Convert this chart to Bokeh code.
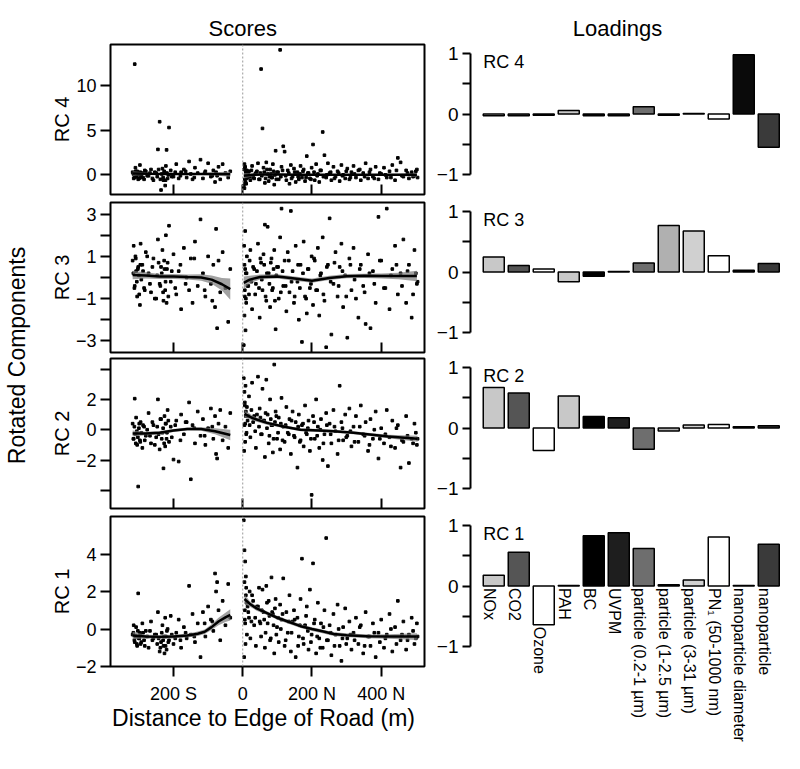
import math
from bokeh.plotting import figure
from bokeh.models import Range1d, FixedTicker, Span, Label
from bokeh.layouts import row, column
from bokeh.embed import file_html
from bokeh.resources import INLINE
from bokeh.core.properties import value

FONT = "Liberation Sans"

# ---------------- data: scores (distance in m; south negative) ----------------
distance = [-318, -315, -312, -310, -308, -305, -302, -300, -297, -295, -290, -285, -280, -272, -265,
            -258, -250, -245, -240, -236, -232, -229, -226, -224, -222, -220, -217, -213, -208, -200,
            -192, -185, -178, -170, -162, -155, -150, -145, -138, -130, -122, -115, -108, -100, -92,
            -85, -80, -77, -74, -70, -65, -58, -50, -42, -36,
            3, 4, 5, 5, 6, 7, 8, 9, 10, 12, 14,
            18, 22, 27, 33, 38, 44, 49, 53, 57, 60, 64, 68, 72, 75, 79, 83, 87, 91, 95, 99,
            104, 108, 112, 117, 121, 126, 130, 135, 139, 144, 148, 153, 158, 162, 167, 171, 176, 180,
            185, 190, 194, 199,
            203, 208, 212, 217, 221, 226, 231, 236, 241, 246, 251, 256, 262, 268, 274, 280, 285, 290, 296,
            302, 308, 314, 320, 327, 334, 341, 348, 355, 362, 369, 376, 384, 392, 400, 408, 416, 424,
            432, 440, 448, 456, 464, 472, 480, 488, 496, 503,
            # second batch of observations (the dense core of each cloud)
            -316, -313, -309, -306, -303, -299, -296, -293, -288, -283, -276, -268, -261, -254, -247,
            -243, -238, -234, -230, -227, -223, -219, -215, -205, -195, -180, -165, -140, -110, -88,
            6, 7, 9, 11, 16, 20, 25, 30, 36, 41, 47, 51, 55, 62, 66, 70, 77, 81, 85, 89,
            93, 97, 102, 110, 115, 124, 133, 141, 150, 160, 165, 174, 183, 188, 197, 206, 215, 224, 233, 243,
            254, 265, 277, 288, 299, 311, 323, 338, 352, 366, 380, 396, 412, 428, 444, 460, 476, 492, 500, 505]

rc4_scores = [0.3, -0.4, 12.4, 0.8, -0.2, 0.4, -0.5, 0.1, 1.1, -0.3, 0.2, -0.5, 0.4, -0.1, 0.6,
              -0.6, 0.2, 2.85, 5.95, -1.7, 0.7, -0.6, 0.3, -1.2, 1.0, 2.8, -0.4, 5.3, 0.5, -0.2,
              1.2, -0.4, 0.3, 0.6, -0.3, 1.5, 0.1, -0.5, 0.8, 0.2, 1.7, -0.4, 0.4, 1.3, -0.2,
              0.5, -0.8, 0.3, -0.1, 0.9, -0.5, 1.2, 0.2, -0.3, 0.4,
              -1.2, 0.6, -1.5, 1.2, -0.5, 0.9, -0.8, 0.3, -1.0, 0.5, -0.3,
              0.4, -0.6, 1.0, -0.4, 0.2, 1.3, -0.5, 11.85, 5.2, 0.8, -0.9, 1.4, 0.1, -0.7, 0.6, -0.3, 1.2, -1.1, 2.7, 0.3,
              -0.5, 14.0, 0.9, 3.2, 2.6, -0.6, 0.5, -1.0, 1.1, -0.2, 0.7, -0.8, 0.3, -0.5, 1.0, -0.3, 0.6, -0.7,
              2.1, 0.2, -0.4, 0.8,
              3.4, -0.6, 1.2, 0.1, -0.8, 0.5, 4.8, 2.2, -0.3, 1.3, 0.2, -0.6, 0.9, -0.2, 0.4, -0.7, 1.1, 0.0, -0.4,
              0.7, -0.5, 0.3, 1.0, -0.3, 0.5, -0.6, 0.2, 1.3, -0.4, 0.6, -0.2, 0.9, -0.5, 0.1, 0.8, -0.3, 0.4,
              1.1, -0.6, 1.9, 1.4, -0.2, 0.5, -0.4, 0.3, -0.1, 0.6,
              0.1, -0.3, 0.4, -0.2, 0.2, -0.4, 0.3, 0.0, -0.3, 0.5, -0.1, 0.2, -0.4, 0.3, -0.2,
              0.6, -0.5, 0.1, -0.3, 0.4, -0.6, 0.2, 0.0, -0.2, 0.3, -0.1, 0.4, -0.3, 0.2, -0.1,
              0.8, -0.9, 0.2, -0.4, 0.3, -0.2, 0.5, -0.3, 0.1, 0.4, -0.5, 0.2, -0.1, 0.3, -0.4, 0.6, -0.2, 0.1, -0.3, 0.4,
              0.0, -0.5, 0.3, -0.2, 0.5, -0.1, 0.2, -0.4, 0.3, -0.2, 0.1, 0.4, -0.3, 0.2, -0.5, 0.3, -0.1, 0.5, -0.2, 0.0,
              0.3, -0.4, 0.2, -0.1, 0.4, -0.3, 0.1, 0.6, -0.2, 0.3, -0.4, 0.2, 0.0, -0.3, 0.5, -0.1, 0.2, -0.2, 0.4, -0.3]

rc3_scores = [0.8, 1.5, -0.4, 1.0, 0.3, -0.9, 0.5, 0.1, -1.3, 1.6, 0.6, -0.5, 1.2, 0.2, -0.7,
              0.9, -1.0, 1.8, -0.3, 0.5, 1.3, -1.1, 0.4, -0.6, 2.0, -1.2, 0.7, 2.45, -0.2, 1.1,
              -0.8, 0.3, -1.5, 1.4, 0.0, -0.6, 0.9, -1.2, 1.7, -0.4, 2.75, 0.2, -0.9, 1.0, -0.3,
              0.6, -1.4, 2.3, -2.4, 0.8, -0.7, 1.2, -0.5, -2.1, 0.4,
              -3.2, 1.5, -1.8, 0.6, -0.9, 2.2, -2.5, 0.2, -1.2, 1.0, -0.4,
              -0.8, 1.3, -1.5, 0.4, -0.3, 1.6, -1.9, 0.7, -0.6, 1.1, 2.5, -1.1, 2.4, 0.2, -1.4, 0.9, -0.5, 1.3, -2.45, 0.5,
              -1.0, 1.9, 3.26, -0.4, 0.8, -1.6, 1.2, -0.7, 3.15, 0.3, -1.2, 1.5, -0.2, -2.0, 0.6, -3.05, 1.7, -0.9,
              -1.7, 0.4, -0.5, 1.0,
              -1.3, 0.8, -0.6, 1.4, -1.8, 0.2, 1.9, -1.1, -3.3, 0.6, 2.8, -2.7, -0.3, 1.2, -0.9, 0.5, 1.6, -1.4, 0.1,
              -2.85, 0.9, -0.6, 1.4, -1.0, -1.9, 0.6, -0.4, -2.2, 1.1, -2.4, 0.3, -1.2, 2.87, 0.8, -0.5, 3.26, -1.5,
              0.4, 1.5, -0.8, 0.2, 1.8, -1.2, 0.6, -1.9, 1.3, -0.3,
              0.2, -0.5, 0.9, -0.2, 0.4, -0.8, 0.6, -0.1, 0.3, -0.6, 1.0, -0.3, 0.5, -1.0, 0.1,
              0.7, -0.4, 0.2, -0.7, 0.8, -0.2, 0.4, -0.9, 0.3, -0.5, 0.6, -0.3, 0.9, -0.6, -1.1,
              -0.6, 0.4, -1.0, 0.2, -0.4, 0.8, -0.2, 0.5, -0.8, 0.3, -0.5, 0.9, -0.1, 0.6, -0.9, 0.2, -0.3, 0.7, -0.6, 0.4,
              -1.1, 0.1, 0.5, -0.7, 0.3, -0.4, 0.8, -0.2, -0.9, 0.6, -0.5, 0.2, -1.0, 0.4, -0.3, 0.9, -0.6, 0.1, -0.8, 0.5,
              -0.2, 0.7, -0.4, 0.3, -0.9, 0.6, -0.1, 0.4, -0.7, 0.2, -0.3, 0.8, -0.5, 0.1, 0.6, -0.4, 0.3, -0.8, 0.2, -0.2]

rc2_scores = [0.4, -0.6, 2.05, -0.3, 0.8, -1.0, -3.75, 0.1, -0.7, 0.5, -1.2, 0.2, -0.4, 1.1, -0.9,
              0.3, -0.5, 2.0, -1.3, 0.7, -0.2, -2.55, 0.9, -1.1, 0.4, -0.6, 1.3, -0.8, 0.2, -1.97,
              0.6, -2.1, 1.0, -0.3, 0.5, 1.8, -3.27, 0.3, -0.9, 1.2, -0.4, 0.7, -1.0, 0.1, 1.4,
              -0.6, 0.9, -1.6, -1.9, 0.4, 1.3, -0.7, 0.2, -1.2, 1.1,
              3.4, -1.4, 2.5, 0.3, 1.8, -0.8, 2.9, 0.9, -0.3, 1.5, 0.6,
              2.2, -0.5, 3.1, 0.9, -1.2, 3.5, 1.4, -0.3, 2.7, 0.6, -1.8, 3.3, 1.0, -0.9, 2.0, 0.3, -1.5, 4.3, 1.2, -0.6,
              0.8, -1.3, 2.1, 0.2, -0.8, 1.5, -0.2, 0.7, -1.6, 1.2, -0.4, 0.5, -2.5, 1.0, -0.7, 0.3, -1.1, 1.6,
              -0.3, 0.6, -1.4, -4.3,
              0.9, -0.6, 2.0, 0.2, -1.2, 0.7, -2.0, -0.3, 1.1, -2.4, 0.4, -0.9, 1.3, -0.1, -1.6, 2.9, 0.5, -0.7, 1.0,
              -0.4, 1.4, -1.1, 0.2, 0.9, -0.8, 1.6, -0.3, 0.5, -1.4, 0.7, -0.6, 1.2, -1.9, 0.1, -0.9, 1.3, -0.5,
              0.6, -1.2, 0.3, -2.5, -0.8, 0.9, -2.2, -0.6, 0.4, -1.0,
              -0.6, 0.2, -0.9, -0.1, -0.5, 0.4, -0.8, -0.2, 0.3, -0.7, 0.0, -0.4, 0.5, -1.0, 0.2,
              -0.3, 0.7, -0.6, 0.1, -0.9, 0.4, -0.2, 0.6, -0.5, 0.3, -0.7, 0.5, 0.1, -0.4, 0.2,
              1.6, 0.4, 1.2, -0.2, 0.9, 0.3, 1.3, 0.5, -0.1, 1.0, 0.2, 0.8, -0.3, 0.6, 1.1, 0.1, -0.4, 0.7, 0.3, -0.6,
              0.5, 0.9, -0.2, 0.4, -0.7, 0.3, -0.3, 0.6, -0.5, 0.2, -0.8, 0.4, -0.2, 0.1, -0.6, 0.5, -0.4, 0.0, -0.9, 0.3,
              -0.3, 0.2, -0.7, 0.1, -0.5, -0.1, -0.8, 0.2, -0.4, -1.0, 0.0, -0.6, -0.3, -1.1, 0.1, -0.7, -0.4, -0.9, -0.2, -0.6]

rc1_scores = [-0.3, 0.2, -0.7, -0.4, 0.1, -0.9, 1.9, -0.5, -0.2, -0.8, 0.3, -0.6, -0.1, -1.0, 0.4,
              -0.5, -0.3, 0.9, -1.2, -0.7, 0.2, -0.9, -1.3, 0.6, -0.4, -1.1, 0.0, -0.6, 0.7, -0.8,
              -0.2, 0.5, -1.0, 0.1, -0.5, 2.3, -0.3, 0.8, -0.7, 0.3, -1.5, 0.9, -0.4, 1.2, 0.5,
              -0.1, 2.96, 2.0, 2.5, 1.0, -0.6, 1.5, 0.2, 2.4, 0.6,
              5.8, -1.5, 4.2, 2.5, 0.5, 3.6, -0.8, 1.8, 2.2, -0.3, 1.2,
              0.6, -0.5, 1.8, 0.2, -0.9, 1.2, 0.4, -0.4, 2.1, 0.9, -1.0, 2.3, 0.3, 1.5, -0.6, 2.75, 0.8, -1.3, 1.6, 0.1,
              -0.7, 1.3, 0.5, 2.7, -0.9, 0.9, -0.2, 1.8, -1.2, 0.4, 1.0, -1.5, 0.6, -0.4, 1.6, 3.75, -0.8, 0.2,
              1.2, -1.1, 2.1, -0.3,
              3.5, 0.5, -1.3, 1.4, -0.5, 0.3, -1.0, 1.0, 4.85, -0.6, 0.2, -1.4, 0.8, -0.3, 1.3, -0.9, -1.7, 0.1, 1.1,
              -0.5, 0.4, -1.1, -0.2, 0.6, -0.8, 0.2, -1.3, 0.9, -0.4, -0.9, 0.3, -1.5, -0.2, 0.5, -1.0, -0.3, 0.8,
              -1.2, 0.1, 1.5, -0.6, 0.4, -1.1, -0.3, 0.6, -0.8, 0.3,
              -0.2, -0.6, -0.4, -0.8, -0.1, -0.5, -0.3, -0.7, -0.2, -0.9, -0.4, -0.1, -0.6, -0.3, -0.8,
              -0.5, -1.0, -0.2, -0.6, -0.4, -0.9, -0.1, -0.7, -0.3, -0.5, -0.6, -0.2, -0.4, 0.3, 0.4,
              1.0, 0.3, 2.8, 1.4, 0.9, 2.0, 0.4, 1.5, 0.6, 1.2, 2.2, 0.3, 1.0, 0.5, -0.2, 1.4, 0.7, -0.5, 0.9, 0.2,
              1.1, -0.3, 0.6, 0.0, 0.8, -0.6, 0.4, -0.2, 0.5, -0.9, 0.2, -0.5, 0.7, -0.1, -0.7, 0.3, -0.4, -1.0, 0.1, -0.6,
              -0.2, -0.9, 0.0, -0.5, -0.8, -0.3, -0.6, 0.1, -0.9, -0.4, -0.2, -0.7, -0.5, 0.0, -0.8, -0.3, -0.6, -0.1, -0.5, -0.4]

for arr in (rc4_scores, rc3_scores, rc2_scores, rc1_scores):
    assert len(arr) == len(distance), (len(arr), len(distance))

# ---------------- smoothed fits (loess) ----------------
rc4_fit_south_x = [-318, -270, -220, -170, -120, -80, -36]
rc4_fit_south_y = [0.15, 0.12, 0.1, 0.1, 0.1, 0.1, 0.08]
rc4_fit_south_se = [0.25, 0.12, 0.1, 0.1, 0.12, 0.18, 0.3]
rc4_fit_north_x = [3, 30, 60, 100, 150, 200, 250, 300, 350, 400, 450, 503]
rc4_fit_north_y = [-0.1, 0.0, 0.05, 0.05, 0.02, 0.0, 0.0, 0.0, 0.0, 0.0, 0.0, 0.0]
rc4_fit_north_se = [0.3, 0.15, 0.12, 0.1, 0.1, 0.1, 0.1, 0.1, 0.1, 0.1, 0.12, 0.2]

rc3_fit_south_x = [-318, -280, -240, -200, -160, -120, -90, -60, -36]
rc3_fit_south_y = [0.12, 0.1, 0.05, 0.05, 0.02, 0.0, -0.1, -0.32, -0.55]
rc3_fit_south_se = [0.2, 0.15, 0.12, 0.12, 0.12, 0.15, 0.2, 0.3, 0.5]
rc3_fit_north_x = [3, 20, 50, 100, 150, 200, 250, 300, 350, 400, 450, 503]
rc3_fit_north_y = [-0.25, -0.1, 0.02, 0.05, -0.05, -0.15, -0.02, 0.06, 0.08, 0.07, 0.07, 0.07]
rc3_fit_north_se = [0.3, 0.18, 0.12, 0.1, 0.1, 0.1, 0.1, 0.1, 0.1, 0.12, 0.15, 0.25]

rc2_fit_south_x = [-318, -280, -240, -200, -160, -120, -80, -36]
rc2_fit_south_y = [-0.25, -0.25, -0.2, -0.05, 0.05, 0.05, -0.1, -0.35]
rc2_fit_south_se = [0.2, 0.12, 0.12, 0.1, 0.1, 0.12, 0.2, 0.35]
rc2_fit_north_x = [5, 30, 70, 120, 167, 220, 263, 320, 360, 420, 505]
rc2_fit_north_y = [1.05, 0.75, 0.45, 0.2, 0.0, -0.05, -0.1, -0.2, -0.3, -0.45, -0.6]
rc2_fit_north_se = [0.25, 0.15, 0.12, 0.1, 0.1, 0.1, 0.1, 0.1, 0.1, 0.12, 0.2]

rc1_fit_south_x = [-318, -280, -240, -200, -160, -130, -110, -90, -70, -50, -36]
rc1_fit_south_y = [-0.35, -0.4, -0.42, -0.4, -0.35, -0.25, -0.15, 0.1, 0.4, 0.62, 0.75]
rc1_fit_south_se = [0.2, 0.1, 0.1, 0.1, 0.1, 0.12, 0.12, 0.15, 0.2, 0.25, 0.3]
rc1_fit_north_x = [5, 20, 40, 70, 100, 130, 167, 200, 230, 263, 300, 360, 420, 503]
rc1_fit_north_y = [1.6, 1.35, 1.1, 0.85, 0.6, 0.4, 0.15, 0.0, -0.12, -0.27, -0.33, -0.39, -0.4, -0.4]
rc1_fit_north_se = [0.25, 0.15, 0.12, 0.1, 0.1, 0.1, 0.1, 0.1, 0.1, 0.1, 0.1, 0.1, 0.12, 0.18]

distance_ticks = [-200, 0, 200, 400]
distance_tick_labels = ["200 S", "0", "200 N", "400 N"]

# ---------------- data: loadings ----------------
variables = ["NOx", "CO2", "Ozone", "PAH", "BC", "UVPM", "particle (0.2-1 µm)",
             "particle (1-2.5 µm)", "particle (3-31 µm)", "PN₁ (50-1000 nm)",
             "nanoparticle diameter", "nanoparticle"]
rc4_loadings = [-0.03, -0.03, -0.02, 0.06, -0.03, -0.03, 0.12, -0.02, 0.01, -0.08, 0.98, -0.55]
rc3_loadings = [0.25, 0.11, 0.05, -0.16, -0.07, 0.01, 0.15, 0.77, 0.68, 0.27, 0.03, 0.14]
rc2_loadings = [0.67, 0.58, -0.37, 0.53, 0.19, 0.17, -0.35, -0.05, 0.05, 0.06, 0.02, 0.04]
rc1_loadings = [0.18, 0.56, -0.64, 0.01, 0.83, 0.88, 0.62, 0.02, 0.10, 0.81, 0.01, 0.69]
bar_colors = ["#c8c8c8", "#555555", "#ffffff", "#c8c8c8", "#000000", "#1e1e1e",
              "#6e6e6e", "#b0b0b0", "#d0d0d0", "#ffffff", "#0a0a0a", "#3a3a3a"]

# ---------------- layout constants ----------------
LAB_W = 38
SC_W = 392
LD_W = 358
TITLE_H = 42
XLAB_H = 54
ROW_TOPS = [2, 4, 3, 4]
ROW_BOTS = [4, 3, 4, 40]
LD_LAST_BOT = 94
FRAME_H = 150
TEXT = "black"
SC_X = (-382, 525)
LD_X = (0.07, 12.63)
LD_Y = (-1.33, 1.15)
SC_BORDERS = dict(min_border_left=72, min_border_right=6)
LD_BORDERS = dict(min_border_left=40, min_border_right=4)


def style_text_axis(ax, size):
    ax.major_label_text_font = FONT
    ax.major_label_text_font_size = size
    ax.major_label_text_color = TEXT
    ax.axis_label_text_font = FONT
    ax.axis_label_text_font_style = "normal"
    ax.axis_label_text_color = TEXT


def text_strip(width, height, xr, borders, text, x, center_from_top, size):
    """A frame-only strip (no axes) holding one centred text; x in the panel's data units."""
    f = figure(width=width, height=height, x_range=Range1d(*xr), y_range=Range1d(0, height),
               min_border_top=0, min_border_bottom=0, x_axis_location=None, y_axis_location=None,
               toolbar_location=None, output_backend="svg", **borders)
    f.grid.visible = False
    f.outline_line_color = None
    f.add_layout(Label(x=x, y=height - center_from_top, text=text, text_align="center",
                       text_baseline="middle", text_font=FONT, text_font_size=size,
                       text_color=TEXT))
    return f


def make_scores(ylabel, scores, fits, yr, major, minor, k):
    top, bot = ROW_TOPS[k], ROW_BOTS[k]
    p = figure(width=SC_W, height=top + FRAME_H + bot,
               x_range=Range1d(*SC_X), y_range=Range1d(*yr),
               min_border_top=top, min_border_bottom=bot,
               toolbar_location=None, output_backend="svg", **SC_BORDERS)
    p.grid.visible = False
    p.outline_line_color = "black"
    p.outline_line_width = 2
    p.add_layout(Span(location=0, dimension="height", line_color="#9a9a9a",
                      line_dash="2 2", line_width=1))
    p.scatter(distance, scores, marker="square", size=2.6, color="black")
    for fx, fy, fse in fits:
        lo = [a - b for a, b in zip(fy, fse)]
        hi = [a + b for a, b in zip(fy, fse)]
        p.varea(x=fx, y1=lo, y2=hi, fill_color="#7a7a7a", fill_alpha=0.7)
    for fx, fy, fse in fits:
        p.line(fx, fy, line_color="black", line_width=2.5)

    ya = p.yaxis[0]
    ya.ticker = FixedTicker(ticks=major, minor_ticks=minor)
    ya.axis_line_color = None
    ya.major_tick_out = 10
    ya.major_tick_in = 0
    ya.minor_tick_out = 10
    ya.minor_tick_in = 0
    ya.major_tick_line_width = 2
    ya.minor_tick_line_width = 2
    ya.minor_tick_line_color = "black"
    ya.major_label_standoff = 4
    ya.axis_label = ylabel
    ya.axis_label_text_font_size = "20px"
    ya.axis_label_standoff = 0
    style_text_axis(ya, "18px")

    xa = p.xaxis[0]
    xa.ticker = FixedTicker(ticks=distance_ticks)
    xa.axis_line_color = None
    xa.minor_tick_line_color = None
    xa.major_tick_line_width = 2
    if k == 3:
        style_text_axis(xa, "18px")
        xa.major_label_overrides = {t: s for t, s in zip(distance_ticks, distance_tick_labels)}
        xa.major_tick_out = 10
        xa.major_tick_in = 0
        xa.major_label_standoff = 7
    else:
        style_text_axis(xa, "1px")
        xa.major_label_overrides = {t: "" for t in distance_ticks}
        xa.major_tick_out = 0
        xa.major_tick_in = 10
        xa.major_label_standoff = 0
    return p


def make_loadings(name, vals, k):
    top = ROW_TOPS[k]
    if k == 3:
        # bottom panel keeps the same scale but extends down to hold the variable names
        bot = LD_LAST_BOT
        span = (LD_Y[1] - LD_Y[0]) / FRAME_H
        yr = (LD_Y[1] - (FRAME_H + bot) * span, LD_Y[1])
        mb = 0
    else:
        bot = ROW_BOTS[k]
        yr = LD_Y
        mb = bot
    l = figure(width=LD_W, height=top + FRAME_H + bot, x_range=Range1d(*LD_X), y_range=Range1d(*yr),
               min_border_top=top, min_border_bottom=mb,
               x_axis_location=None, toolbar_location=None, output_backend="svg", **LD_BORDERS)
    l.grid.visible = False
    l.outline_line_color = None
    idx = list(range(1, len(vals) + 1))
    l.vbar(x=idx, top=vals, bottom=0, width=0.84, fill_color=bar_colors,
           line_color="black", line_width=1.5)
    ya = l.yaxis[0]
    ya.bounds = (-1, 1)
    ya.ticker = FixedTicker(ticks=[-1, 0, 1], minor_ticks=[-0.5, 0.5])
    ya.axis_line_color = "black"
    ya.axis_line_width = 2
    ya.major_tick_out = 8
    ya.major_tick_in = 0
    ya.minor_tick_out = 8
    ya.minor_tick_in = 0
    ya.major_tick_line_width = 2
    ya.minor_tick_line_width = 2
    ya.minor_tick_line_color = "black"
    ya.major_label_standoff = 4
    style_text_axis(ya, "19px")
    l.add_layout(Label(x=0.58, y=0.86, text=name, text_baseline="middle", text_align="left",
                       text_font=FONT, text_font_size="18px", text_color=TEXT))
    if k == 3:
        label_y = [min(0.0, v) for v in vals]
        l.text(x=idx, y=label_y, text=variables, angle=-math.pi / 2,
               text_align="left", text_baseline="middle", x_offset=-4, y_offset=2,
               text_font=value(FONT), text_font_size="16px", text_color=TEXT)
    return l


s4 = make_scores("RC 4", rc4_scores,
                 [(rc4_fit_south_x, rc4_fit_south_y, rc4_fit_south_se),
                  (rc4_fit_north_x, rc4_fit_north_y, rc4_fit_north_se)],
                 (-2.2, 14.6), [0, 5, 10], [], 0)
s3 = make_scores("RC 3", rc3_scores,
                 [(rc3_fit_south_x, rc3_fit_south_y, rc3_fit_south_se),
                  (rc3_fit_north_x, rc3_fit_north_y, rc3_fit_north_se)],
                 (-3.55, 3.55), [-3, -1, 1, 3], [-2, 0, 2], 1)
s2 = make_scores("RC 2", rc2_scores,
                 [(rc2_fit_south_x, rc2_fit_south_y, rc2_fit_south_se),
                  (rc2_fit_north_x, rc2_fit_north_y, rc2_fit_north_se)],
                 (-5.2, 4.7), [-2, 0, 2], [-4, 4], 2)
s1 = make_scores("RC 1", rc1_scores,
                 [(rc1_fit_south_x, rc1_fit_south_y, rc1_fit_south_se),
                  (rc1_fit_north_x, rc1_fit_north_y, rc1_fit_north_se)],
                 (-2.0, 6.0), [-2, 0, 2, 4], [], 3)

l4 = make_loadings("RC 4", rc4_loadings, 0)
l3 = make_loadings("RC 3", rc3_loadings, 1)
l2 = make_loadings("RC 2", rc2_loadings, 2)
l1 = make_loadings("RC 1", rc1_loadings, 3)

scores_title = text_strip(SC_W, TITLE_H, SC_X, SC_BORDERS, "Scores", 0, 28, "22px")
scores_xlabel = text_strip(SC_W, XLAB_H, SC_X, SC_BORDERS, "Distance to Edge of Road (m)",
                           60, 11, "23px")
loadings_title = text_strip(LD_W, TITLE_H, LD_X, LD_BORDERS, "Loadings", 5.95, 28, "22px")

TOTAL_H = TITLE_H + sum(ROW_TOPS) + sum(ROW_BOTS) + 4 * FRAME_H + XLAB_H
lab = figure(width=LAB_W, height=TOTAL_H, x_range=Range1d(0, LAB_W), y_range=Range1d(0, TOTAL_H),
             min_border=0, x_axis_location=None, y_axis_location=None,
             toolbar_location=None, output_backend="svg")
lab.grid.visible = False
lab.outline_line_color = None
lab.add_layout(Label(x=16, y=TOTAL_H - 355, text="Rotated Components", angle=math.pi / 2,
                     text_align="center", text_baseline="middle",
                     text_font=FONT, text_font_size="23px", text_color=TEXT))

layout = row(lab,
             column(scores_title, s4, s3, s2, s1, scores_xlabel),
             column(loadings_title, l4, l3, l2, l1))

with open("out.html", "w") as f:
    f.write(file_html(layout, INLINE))
